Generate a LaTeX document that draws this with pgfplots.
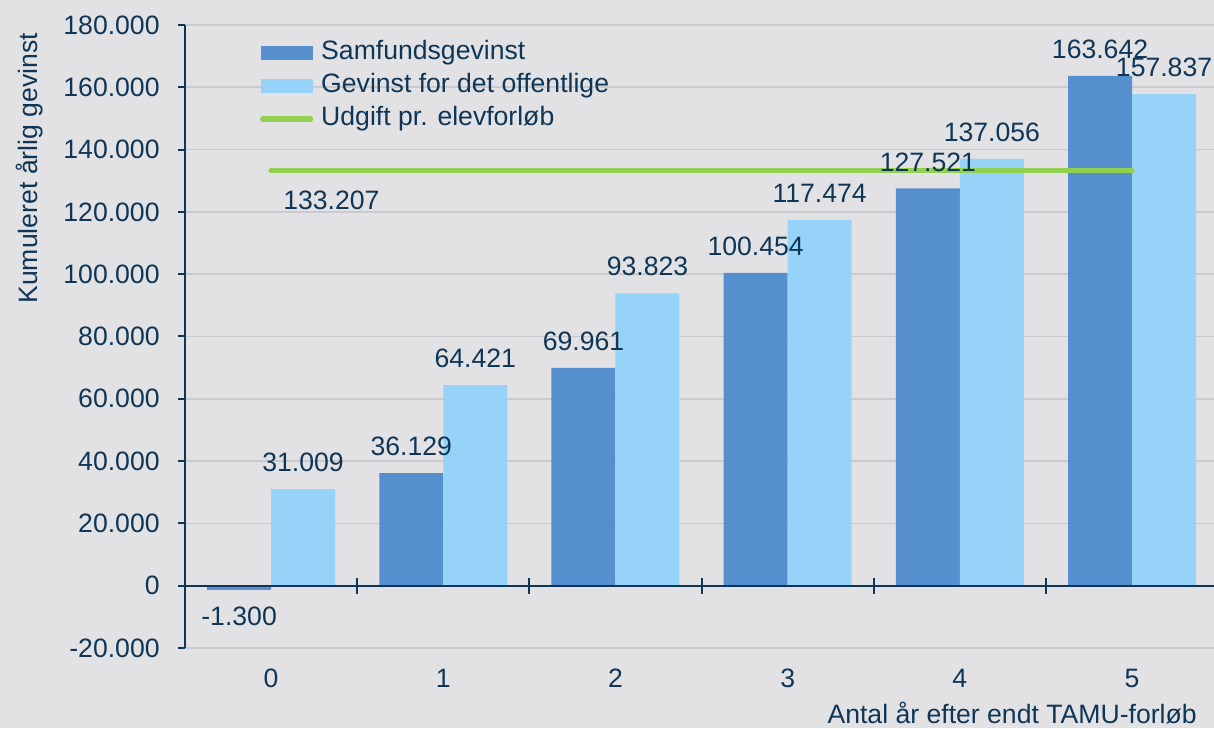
\documentclass[border=0pt]{standalone}
\usepackage{pgfplots}
\pgfplotsset{compat=1.18}
\usepackage{fontspec}
\setmainfont{Liberation Sans}
\usetikzlibrary{backgrounds}
\definecolor{bgc}{HTML}{E2E2E4}
\definecolor{gridc}{HTML}{C9C9CE}
\definecolor{navy}{HTML}{0F3657}
\definecolor{darkbar}{HTML}{558FCD}
\definecolor{lightbar}{HTML}{97D3F9}
\definecolor{greenline}{HTML}{92D050}
\newcommand{\f}{\fontsize{13.3}{16}\selectfont}
\begin{document}
\begin{tikzpicture}
\begin{axis}[
  name=ax,
  scale only axis,
  width=514.5pt, height=311.5pt,
  xmin=-0.5, xmax=5.476,
  ymin=-20000, ymax=180000,
  ytick={-20000,0,20000,40000,60000,80000,100000,120000,140000,160000,180000},
  xtick={0,1,2,3,4,5},
  scaled y ticks=false,
  font=\f,
  every tick label/.append style={font=\f, text=navy},
  /pgf/number format/.cd, fixed, precision=0, 1000 sep={.}, assume math mode=true,
  /pgfplots/.cd,
  axis y line*=left,
  axis x line*=bottom,
  x axis line style={draw=none},
  y axis line style={navy, line width=1pt},
  ytick style={navy, line width=1pt},
  xtick style={draw=none},
  tick align=outside,
  major tick length=3.5pt,
  yticklabel style={anchor=east, inner sep=0pt, xshift=-9pt},
  xticklabel style={anchor=north, inner sep=0pt, yshift=-7pt},
  ymajorgrids,
  major grid style={gridc, line width=0.8pt},
  ylabel={Kumuleret årlig gevinst},
  every axis y label/.style={at={([xshift=-71pt]axis description cs:0,0.77)}, rotate=90, anchor=south, inner sep=0pt, text=navy, font=\f},
  every axis x label/.style={at={([xshift=-8.5pt,yshift=-37.5pt]axis description cs:1,0)}, anchor=base east, inner sep=0pt, text=navy, font=\f},
  xlabel={Antal år efter endt TAMU-forløb},
  legend cell align=left,
  legend style={draw=none, fill=none, at={(rel axis cs:0.0729,0.975)}, anchor=north west,
    inner sep=0pt, outer sep=0pt, row sep=4.1pt, column sep=0pt, font=\f, text=navy,
    nodes={inner sep=0pt, text height=9.6pt, text depth=2.8pt}},
]
\addplot[ybar, bar width=32pt, bar shift=-16pt, fill=darkbar, draw=none,
  nodes near coords, nodes near coords align=vertical,
  every node near coord/.append style={font=\f, text=navy, inner xsep=0pt, inner ysep=8.4pt, xshift=-16pt},
  legend image code/.code={\fill[darkbar] (0pt,-3.3pt) rectangle (26pt,3.3pt); \path (29pt,0pt);}]
  coordinates {(0,-1300) (1,36129) (2,69961) (3,100454) (4,127521) (5,163642)};
\addlegendentry{Samfundsgevinst}
\addplot[ybar, bar width=32pt, bar shift=16pt, fill=lightbar, draw=none,
  nodes near coords, nodes near coords align=vertical,
  every node near coord/.append style={font=\f, text=navy, inner xsep=0pt, inner ysep=8.4pt, xshift=16pt},
  legend image code/.code={\fill[lightbar] (0pt,-3.3pt) rectangle (26pt,3.3pt); \path (29pt,0pt);}]
  coordinates {(0,31009) (1,64421) (2,93823) (3,117474) (4,137056) (5,157837)};
\addlegendentry{Gevinst for det offentlige}
\addplot[greenline, line width=2.6pt, line cap=round, 
  legend image code/.code={\draw[greenline, line width=2.6pt, line cap=round] (1pt,0pt) -- (25pt,0pt); \path (29pt,0pt);}]
  coordinates {(0,133207) (5,133207)};
\addlegendentry{Udgift pr. elevforløb}
\draw[navy, line width=1pt] ([xshift=-3.5pt]axis cs:-0.5,0) -- (axis cs:5.476,0);
\pgfplotsinvokeforeach{0.5,1.5,2.5,3.5,4.5}{
  \draw[navy, line width=1pt] ([yshift=-4pt]axis cs:#1,0) -- ([yshift=4pt]axis cs:#1,0);
}
\node[font=\f, text=navy, inner sep=0pt] at (axis cs:0.35,123600) {133.207};
\end{axis}
\pgfresetboundingbox
\path[use as bounding box] ([xshift=-92.5pt,yshift=-40pt]ax.south west) rectangle ([yshift=12.5pt]ax.north east);
\begin{scope}[on background layer]
\fill[bgc] ([xshift=-92.5pt,yshift=-40pt]ax.south west) rectangle ([yshift=12.5pt]ax.north east);
\end{scope}
\end{tikzpicture}
\end{document}
